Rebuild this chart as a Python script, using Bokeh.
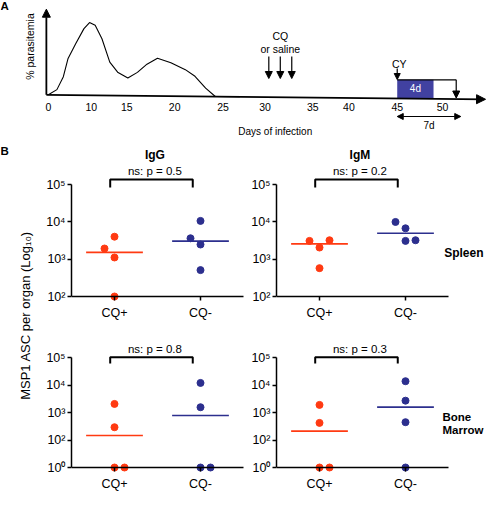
import math
import numpy as np
from bokeh.plotting import figure
from bokeh.layouts import column, row
from bokeh.models import Range1d, LinearAxis, FixedTicker, Arrow, NormalHead
from bokeh.core.properties import value
from bokeh.embed import file_html
from bokeh.resources import INLINE

# ======================= DATA =======================
# Panel A: schematic of infection / treatment timeline
day_ticks = [0, 10, 15, 20, 25, 30, 35, 40, 45, 50]
curve_days = [0, 2.0, 3.5, 4.6, 6.4, 8.3, 9.6, 10.55, 11.5, 12.6, 13.7, 15.1,
              16.1, 17.1, 18.2, 19.6, 21.1, 22.1, 23.2, 24.2, 27.0]
curve_parasitemia = [0, 3.3, 11.4, 22.9, 32.3, 41.6, 45.4, 43.8, 35.4, 20.8, 14.6,
                     11.0, 14.6, 19.8, 23.5, 20.8, 16.6, 12.5, 5.2, 0, 0]
cq_days = [30.4, 31.6, 32.8]
cy_day = 45
culture_days = 4
harvest_day = 51.5
window_days = 7

# Panel B: MSP1 ASC per organ
groups = ["CQ+", "CQ-"]
isotypes = ["IgG", "IgM"]
organs = ["Spleen", "Bone Marrow"]
spleen_igg_cq_pos = [4000, 1930, 1110, 100]
spleen_igg_cq_neg = [10600, 3630, 2470, 509]
spleen_igm_cq_pos = [3090, 3210, 2050, 575]
spleen_igm_cq_neg = [9930, 6710, 3090, 3210]
bm_igg_cq_pos = [2090, 295, 1, 1]
bm_igg_cq_neg = [12200, 1585, 1, 1]
bm_igm_cq_pos = [1930, 425, 1, 1]
bm_igm_cq_neg = [14100, 2750, 450, 1]
p_spleen = [0.5, 0.2]
p_bm = [0.8, 0.3]
spleen_ticks = [100, 1000, 10000, 100000]
spleen_tick_labels = ["10²", "10³", "10⁴", "10⁵"]
bm_ticks = [10, 100, 1000, 10000, 100000]
bm_tick_labels = ["10⁰", "10²", "10³", "10⁴", "10⁵"]

# ======================= STYLE / LAYOUT =======================
FONT = "Liberation Sans"
RED = "#FF3A12"
BLUE = "#2C2F8E"
BOXC = "#4141A1"

# horizontal dodge of overlapping dots (in dot steps)
dodge = {
    ("Spleen", "IgG"): ([0, -1, 0, 0], [0, -1, 0, 0]),
    ("Spleen", "IgM"): ([-1, 1, 0, 0], [-1, 0, 0, 1]),
    ("Bone Marrow", "IgG"): ([0, 0, 0, 1], [0, 0, 0, 1]),
    ("Bone Marrow", "IgM"): ([0, 0, 0, 1], [0, 0, 0, 0]),
}

# ---------- panel A (drawn in schematic pixel units) ----------
A_W, A_H = 487, 141
tick_px = [52, 96, 132.5, 181.5, 231, 274, 323, 360, 409.5, 456]
AX_X0, AX_Y0, AX_X1, AX_Y1 = 50, 98.3, 500, 102.8
PX_PER_PCT = 1.6


def day_x(d):
    d = np.atleast_1d(np.asarray(d, float))
    slope = (tick_px[-1] - tick_px[-2]) / (day_ticks[-1] - day_ticks[-2])
    out = np.interp(d, day_ticks, tick_px)
    hi = d > day_ticks[-1]
    out[hi] = tick_px[-1] + (d[hi] - day_ticks[-1]) * slope
    return out


def base_y(x):
    return AX_Y0 + (np.asarray(x, float) - AX_X0) * (AX_Y1 - AX_Y0) / (AX_X1 - AX_X0)


def head(size):
    return NormalHead(size=size, fill_color="black", line_color="black", line_width=1)


pa = figure(width=A_W, height=A_H, x_range=Range1d(3, 502), y_range=Range1d(145, 4),
            x_axis_type=None, y_axis_type=None, toolbar_location=None,
            output_backend="svg", min_border=0, outline_line_color=None)

cx = day_x(curve_days)
cy = base_y(cx) - np.asarray(curve_parasitemia) * PX_PER_PCT
pa.line(cx, cy, line_color="black", line_width=1.1)

pa.add_layout(Arrow(end=head(9), x_start=AX_X0, y_start=AX_Y0, x_end=AX_X1, y_end=AX_Y1,
                    line_width=1.8, line_color="black"))
pa.add_layout(Arrow(end=head(8), x_start=AX_X0, y_start=AX_Y0, x_end=AX_X0, y_end=12.7,
                    line_width=1.8, line_color="black"))

dax = LinearAxis(ticker=FixedTicker(ticks=[float(t) for t in tick_px]),
                 major_label_overrides={float(t): str(d) for t, d in zip(tick_px, day_ticks)},
                 axis_line_color=None, major_tick_out=0, major_tick_in=0,
                 minor_tick_out=0, minor_tick_in=0, major_tick_line_color=None,
                 minor_tick_line_color=None, major_label_standoff=6,
                 major_label_text_font=FONT, major_label_text_font_size="10.5px",
                 major_label_text_color="black")
dax.fixed_location = 100
pa.add_layout(dax, "below")

for xq in day_x(cq_days):
    pa.add_layout(Arrow(end=head(7), x_start=xq, y_start=60, x_end=xq, y_end=82,
                        line_width=1.2, line_color="black"))

x_cy = float(day_x(cy_day)[0])
x_cult = float(day_x(cy_day + culture_days)[0])
x_harv = float(day_x(harvest_day)[0])
x_win = float(day_x(cy_day + window_days)[0])
pa.add_layout(Arrow(end=head(6), x_start=x_cy, y_start=72, x_end=x_cy, y_end=83,
                    line_width=1.2, line_color="black"))
pa.quad(left=[x_cy], right=[x_cult], top=[83.3], bottom=[101.6], fill_color=BOXC,
        line_color=None)
pa.line([x_cy, x_harv], [83.3, 83.3], line_color="black", line_width=1.2)
pa.add_layout(Arrow(end=head(7), x_start=x_harv, y_start=83.3, x_end=x_harv, y_end=101.5,
                    line_width=1.2, line_color="black"))
pa.add_layout(Arrow(start=head(6), end=head(6), x_start=x_cy, y_start=120, x_end=x_win,
                    y_end=120, line_width=1.2, line_color="black"))


def atext(p, x, y, s, size="10px", color="black", bold=False, align="center", angle=0.0):
    p.text(x=[x], y=[y], text=[s], text_font=value(FONT), text_font_size=size,
           text_color=color, text_align=align, text_baseline="middle",
           text_font_style="bold" if bold else "normal", angle=angle)


atext(pa, 3, 9, "A", size="11.5px", bold=True, align="left")
atext(pa, 33, 50, "% parasitemia", size="10.5px", angle=math.pi / 2)
xm = float(day_x(cq_days[1])[0])
atext(pa, xm, 39, "CQ", size="10.5px")
atext(pa, xm, 52, "or saline", size="10.5px")
atext(pa, x_cy + 2, 67.5, "CY", size="10.5px")
atext(pa, (x_cy + x_cult) / 2, 92, f"{culture_days}d", size="10px", color="white")
atext(pa, (x_cy + x_win) / 2, 129, f"{window_days}d", size="10px")
atext(pa, 284.5, 135, "Days of infection", size="10px")

# ---------- panel B ----------
UNIT_PX = 86.0
DOT = 10.0 / UNIT_PX
HALF = 0.33
BR_X0, BR_X1 = 0.95, 1.91
TXT_X = 1.47


def make_panel(width, border_left, height, axis_from_bottom, ppd, floor, ticks, labels):
    x_end = 0.5 + (width - border_left) / UNIT_PX
    y0 = floor * 10 ** (-axis_from_bottom / ppd)
    y1 = floor * 10 ** ((height - axis_from_bottom) / ppd)
    p = figure(width=width, height=height, x_range=Range1d(0.5, x_end),
               y_range=Range1d(y0, y1), y_axis_type="log", x_axis_type=None,
               toolbar_location=None, output_backend="svg",
               min_border_left=border_left, min_border_right=0, min_border_top=0,
               min_border_bottom=0, outline_line_color=None)
    p.grid.visible = False
    ya = p.yaxis[0]
    ya.ticker = FixedTicker(ticks=[float(t) for t in ticks])
    ya.major_label_overrides = {float(t): s for t, s in zip(ticks, labels)}
    ya.bounds = (float(floor), 1e5)
    ya.axis_line_width = 1.5
    ya.axis_line_color = "black"
    ya.major_tick_out = 4
    ya.major_tick_in = 0
    ya.major_tick_line_width = 1.5
    ya.minor_tick_line_color = None
    ya.major_label_standoff = 2
    ya.major_label_text_font = FONT
    ya.major_label_text_font_size = "12.5px"
    ya.major_label_text_color = "black"
    xa = LinearAxis(ticker=FixedTicker(ticks=[1.0, 2.0]),
                    major_label_overrides={float(i + 1): g for i, g in enumerate(groups)},
                    bounds=(0.5, 2.5), axis_line_width=1.5, axis_line_color="black",
                    major_tick_out=4, major_tick_in=0, major_tick_line_width=1.5,
                    minor_tick_line_color=None, major_label_standoff=5,
                    major_label_text_font=FONT, major_label_text_font_size="12.5px",
                    major_label_text_color="black")
    xa.fixed_location = float(floor)
    p.add_layout(xa, "below")
    return p


def up(floor, ppd, px):
    return floor * 10 ** (px / ppd)


def add_group(p, idx, vals, dg, color, floor):
    c = idx + 1
    x = c + np.asarray(dg, float) * DOT
    y = np.maximum(np.asarray(vals, float), floor)
    med = float(np.median(vals))
    p.segment(x0=[c - HALF], x1=[c + HALF], y0=[med], y1=[med], line_color=color,
              line_width=1.6)
    p.scatter(x, y, size=7, fill_color=color, line_color=color)


def bracket(p, floor, ppd, top_px, leg_px, ptext, ptext_px):
    yt = up(floor, ppd, top_px)
    yl = up(floor, ppd, leg_px)
    p.line([BR_X0, BR_X0, BR_X1, BR_X1], [yl, yt, yt, yl], line_color="black",
           line_width=2)
    atext(p, TXT_X, up(floor, ppd, ptext_px), ptext, size="11.5px")


TOP_H, BOT_H = 184, 166
LW, RW = 206, 241
LB, RB = 31, 30
TOP_PPD, BOT_PPD = 37.33, 27.4
TOP_AX, BOT_AX = 29, 24

spleen_data = [(spleen_igg_cq_pos, spleen_igg_cq_neg), (spleen_igm_cq_pos, spleen_igm_cq_neg)]
bm_data = [(bm_igg_cq_pos, bm_igg_cq_neg), (bm_igm_cq_pos, bm_igm_cq_neg)]

top_figs = []
for k, iso in enumerate(isotypes):
    w, b = (LW, LB) if k == 0 else (RW, RB)
    p = make_panel(w, b, TOP_H, TOP_AX, TOP_PPD, 100, spleen_ticks, spleen_tick_labels)
    pos, neg = spleen_data[k]
    dp, dn = dodge[(organs[0], iso)]
    add_group(p, 0, pos, dp, RED, 100)
    add_group(p, 1, neg, dn, BLUE, 100)
    bracket(p, 100, TOP_PPD, 117, 109, f"ns: p = {p_spleen[k]}", 126)
    atext(p, TXT_X, up(100, TOP_PPD, 142), iso, size="12px", bold=True)
    if k == 1:
        atext(p, 2.45, up(100, TOP_PPD, 44), organs[0], size="12px", bold=True, align="left")
    top_figs.append(p)

bot_figs = []
for k, iso in enumerate(isotypes):
    w, b = (LW, LB) if k == 0 else (RW, RB)
    p = make_panel(w, b, BOT_H, BOT_AX, BOT_PPD, 10, bm_ticks, bm_tick_labels)
    pos, neg = bm_data[k]
    dp, dn = dodge[(organs[1], iso)]
    add_group(p, 0, pos, dp, RED, 10)
    add_group(p, 1, neg, dn, BLUE, 10)
    bracket(p, 10, BOT_PPD, 110.3, 104, f"ns: p = {p_bm[k]}", 119)
    if k == 1:
        w1, w2 = organs[1].split(" ")
        atext(p, 2.43, up(10, BOT_PPD, 51), w1, size="11.5px", bold=True, align="left")
        atext(p, 2.43, up(10, BOT_PPD, 38), w2, size="11.5px", bold=True, align="left")
    bot_figs.append(p)

ps = figure(width=40, height=TOP_H + BOT_H, x_range=Range1d(7, 47), y_range=Range1d(506, 156),
            x_axis_type=None, y_axis_type=None, toolbar_location=None,
            output_backend="svg", min_border=0, outline_line_color=None)
atext(ps, 7, 165, "B", size="11.5px", bold=True, align="left")
atext(ps, 32, 330, "MSP1 ASC per organ (Log₁₀)", size="13px", angle=math.pi / 2)

layout = column(pa, row(ps, column(row(*top_figs), row(*bot_figs))))
open("out.html", "w").write(file_html(layout, INLINE))
